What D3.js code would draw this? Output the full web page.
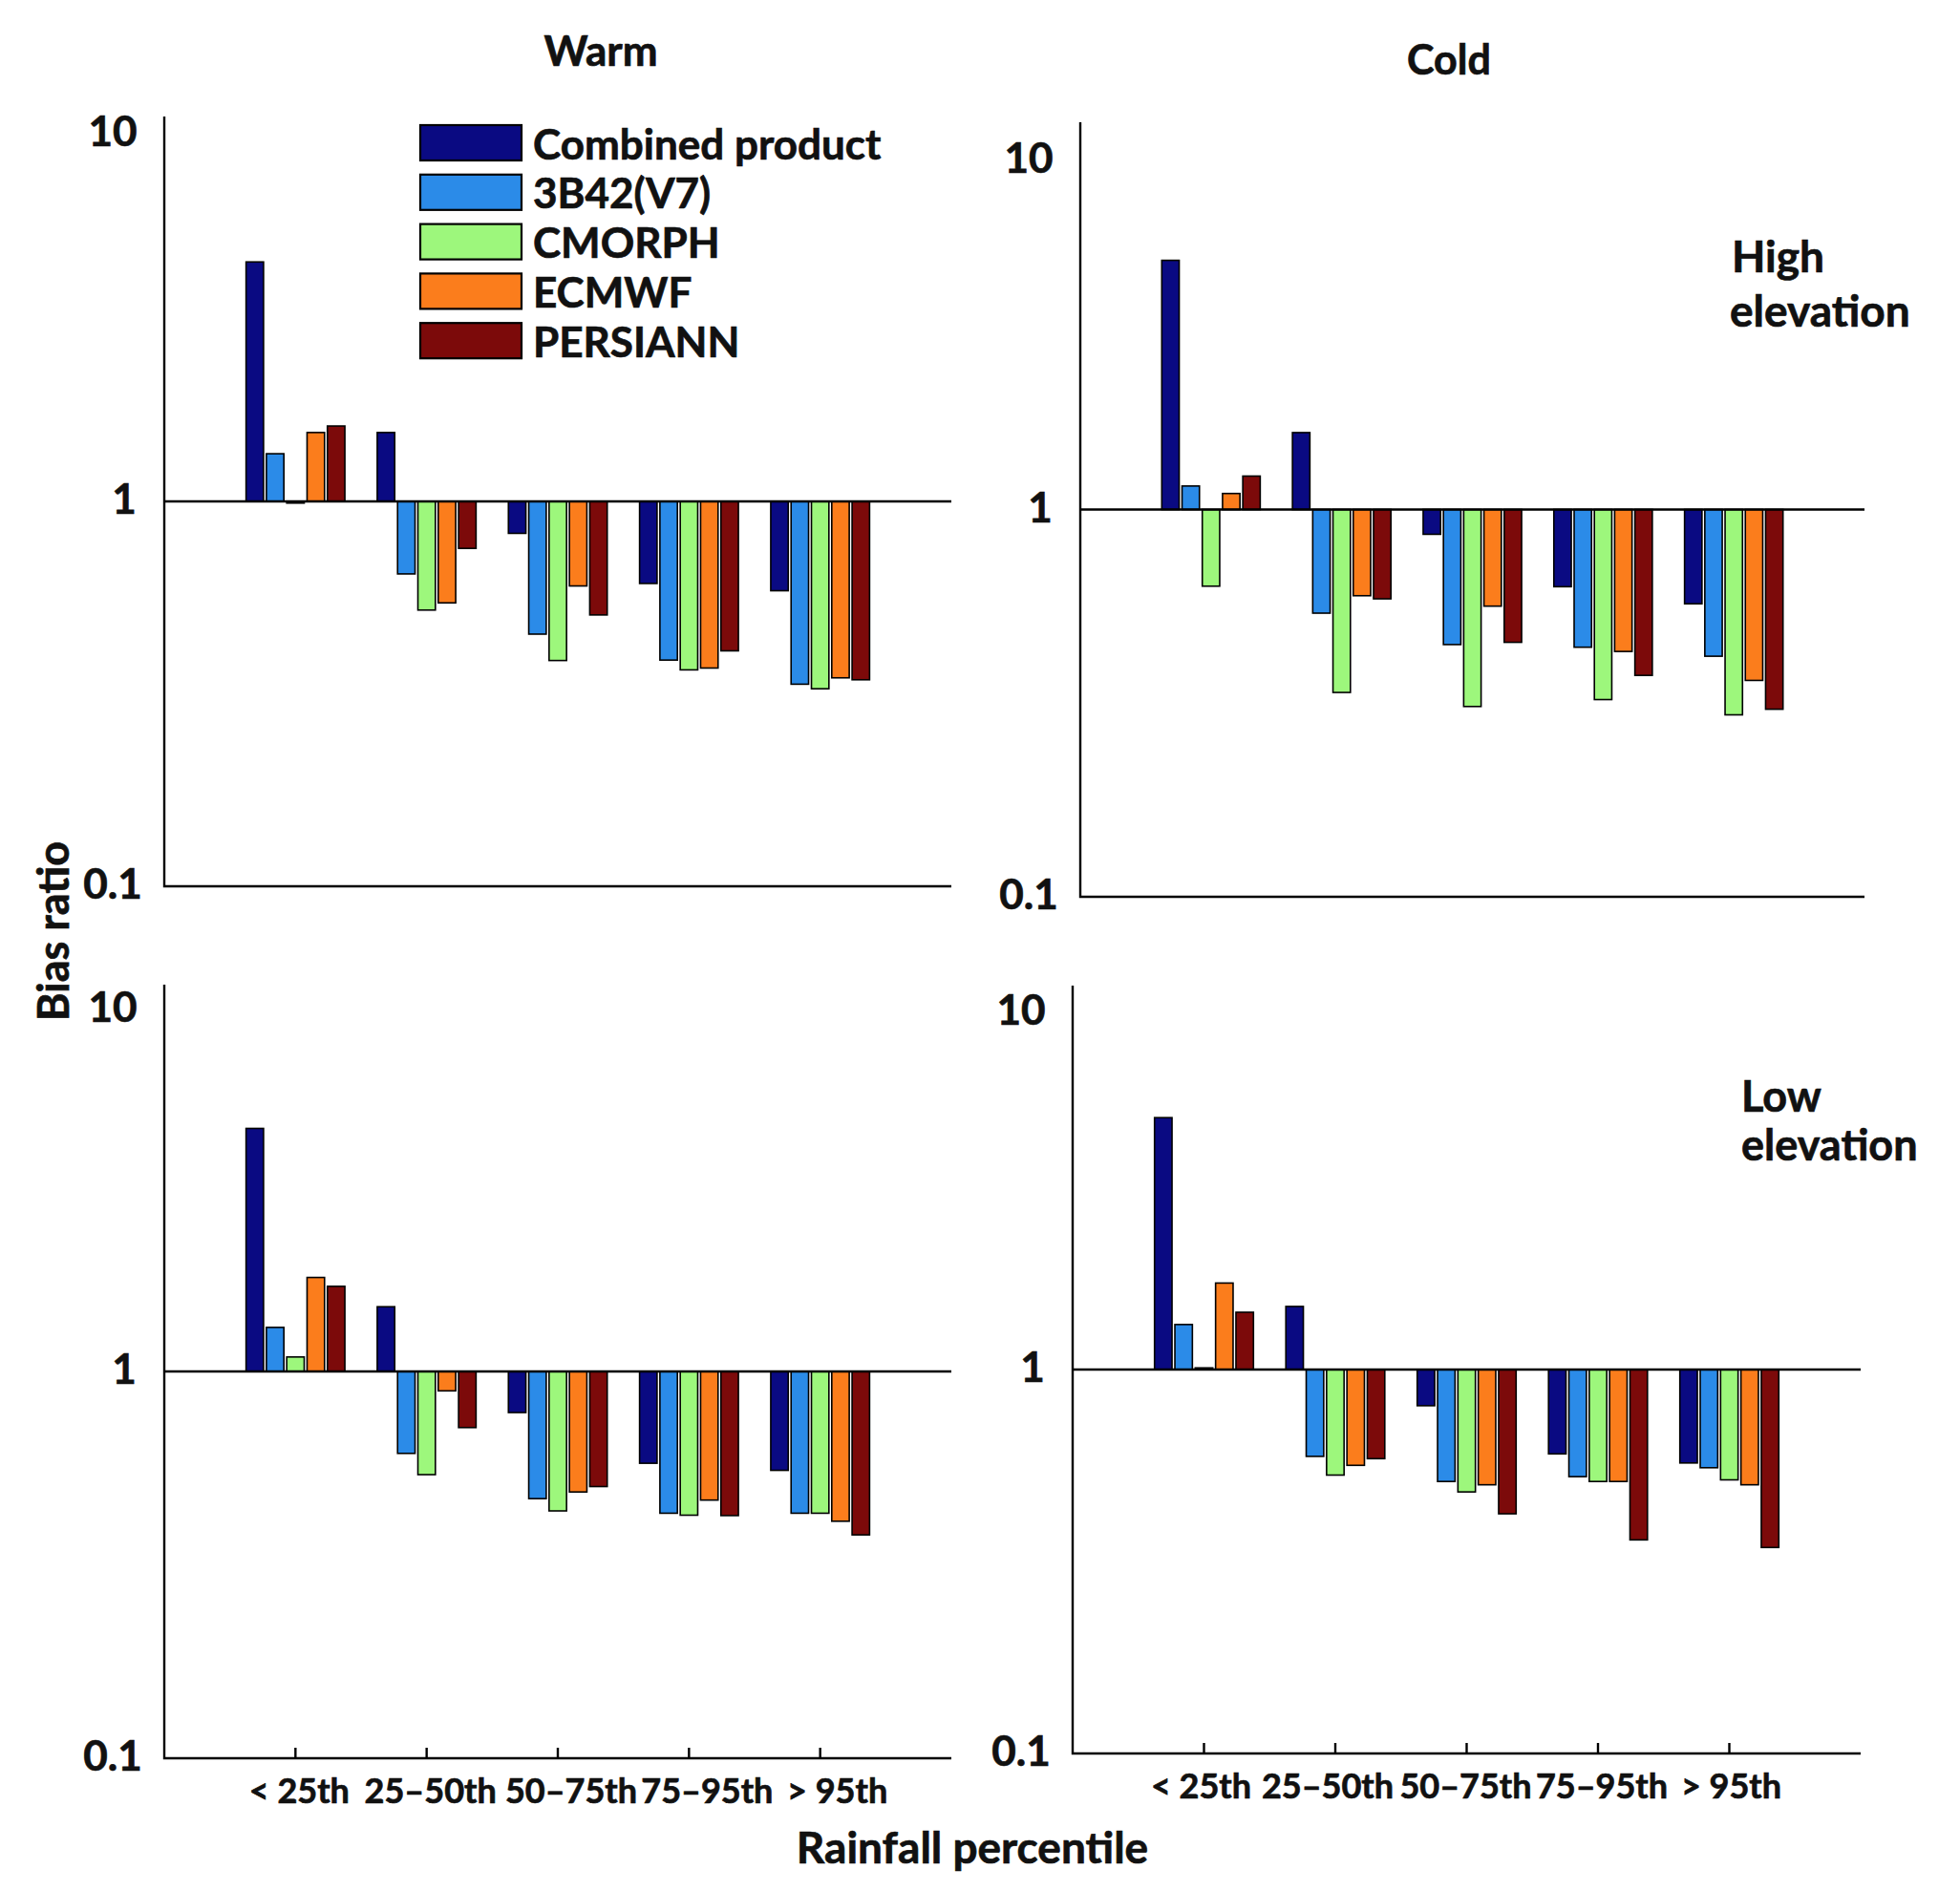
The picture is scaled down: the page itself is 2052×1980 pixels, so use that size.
<!DOCTYPE html>
<html lang="en">
<head>
<meta charset="utf-8">
<title>Bias ratio by rainfall percentile</title>
<style>
  body {margin: 0; background: #fff;}
  svg  {display: block; font-family: Lato, "Open Sans", sans-serif; font-weight: 700;}
  svg text {fill: #111; stroke: #111; stroke-width: 0.7px;}
  .bar {stroke: #000; stroke-width: 1.6;}
  .axis-line {stroke: #000; stroke-width: 2.4; fill: none;}
</style>
</head>
<body>
<svg id="chart" width="2052" height="1980"></svg>

<script src="https://d3js.org/d3.v7.min.js"></script>
<script>
// categories and products
const categories = ["< 25th", "25\u201350th", "50\u201375th", "75\u201395th", "> 95th"];
const products   = ["Combined product", "3B42(V7)", "CMORPH", "ECMWF", "PERSIANN"];
const colors     = ["#0a0a82", "#2b8be8", "#9df77c", "#fb7d1c", "#7c0a0a"];
const yTicks     = [0.1, 1, 10];

// bias ratio per product (rows) and percentile class (columns)
const warmHigh = [
  [4.19, 1.51, 0.826, 0.612, 0.586],
  [1.33, 0.648, 0.452, 0.387, 0.335],
  [0.99, 0.522, 0.386, 0.365, 0.326],
  [1.51, 0.545, 0.603, 0.369, 0.348],
  [1.57, 0.755, 0.507, 0.409, 0.344]
];
const coldHigh = [
  [4.40, 1.58, 0.863, 0.632, 0.571],
  [1.15, 0.540, 0.448, 0.441, 0.418],
  [0.634, 0.337, 0.310, 0.323, 0.295],
  [1.10, 0.599, 0.563, 0.430, 0.362],
  [1.22, 0.588, 0.454, 0.373, 0.305]
];
const warmLow = [
  [4.25, 1.47, 0.783, 0.579, 0.555],
  [1.30, 0.614, 0.469, 0.430, 0.430],
  [1.09, 0.541, 0.436, 0.425, 0.430],
  [1.75, 0.891, 0.488, 0.465, 0.410],
  [1.66, 0.716, 0.504, 0.424, 0.378]
];
const coldLow = [
  [4.53, 1.46, 0.805, 0.603, 0.571],
  [1.31, 0.594, 0.511, 0.526, 0.555],
  [1.01, 0.531, 0.480, 0.511, 0.516],
  [1.68, 0.563, 0.501, 0.511, 0.501],
  [1.41, 0.586, 0.421, 0.360, 0.344]
];

// panel frames (pixel layout of the composite figure)
const panels = [
  {data: warmHigh, x0: 172,  x1: 996,  yTop: 122,  yBot: 928,  ticks: false, tenShift: 14},
  {data: coldHigh, x0: 1131, x1: 1952, yTop: 128,  yBot: 939,  ticks: false, tenShift: 36},
  {data: warmLow,  x0: 172,  x1: 996,  yTop: 1031, yBot: 1841, ticks: true,  tenShift: 22,
   labelShift: [4, 4, 14, 19, 18]},
  {data: coldLow,  x0: 1123, x1: 1948, yTop: 1032, yBot: 1836, ticks: true,  tenShift: 24,
   labelShift: [-3, -8, -1, 4, 2]}
];

const svg = d3.select("#chart");

panels.forEach(p => {
  const g = svg.append("g");
  const x = d3.scaleLinear().domain([0, categories.length + 1]).range([p.x0, p.x1]);
  const y = d3.scaleLog().domain([0.1, 10]).range([p.yBot, p.yTop]);
  const step = x(1) - x(0);
  const pitch = step * 0.155;
  const bw = pitch * 0.86;

  const cells = [];
  p.data.forEach((row, i) => row.forEach((v, c) => cells.push({i, c, v})));

  g.selectAll("rect.bar")
    .data(cells)
    .join("rect")
      .attr("class", "bar")
      .attr("x", d => x(d.c + 1) + (d.i - 2) * pitch - bw / 2)
      .attr("y", d => Math.min(y(d.v), y(1)))
      .attr("width", bw)
      .attr("height", d => Math.max(Math.abs(y(d.v) - y(1)), 0.5))
      .attr("fill", d => colors[d.i]);

  // reference line at ratio = 1
  g.append("line").attr("class", "axis-line")
    .attr("x1", p.x0).attr("x2", p.x1)
    .attr("y1", y(1)).attr("y2", y(1));

  // left and bottom axis lines
  g.append("path").attr("class", "axis-line")
    .attr("d", `M${p.x0},${p.yTop}V${p.yBot}H${p.x1}`);

  g.selectAll("text.ytick")
    .data(yTicks)
    .join("text")
      .attr("class", "ytick")
      .attr("x", d => p.x0 - (d === 1 ? 42 : 54))
      .attr("y", d => y(d) + (d === 10 ? p.tenShift : -4))
      .attr("text-anchor", "middle")
      .attr("dominant-baseline", "central")
      .attr("font-size", 44)
      .text(d => d3.format("~g")(d));

  if (p.ticks) {
    g.selectAll("line.xtick")
      .data(categories)
      .join("line")
        .attr("class", "axis-line")
        .attr("x1", (d, c) => x(c + 1)).attr("x2", (d, c) => x(c + 1))
        .attr("y1", p.yBot).attr("y2", p.yBot - 11);
    g.selectAll("text.xtick")
      .data(categories)
      .join("text")
        .attr("x", (d, c) => x(c + 1) + p.labelShift[c])
        .attr("y", p.yBot + 47)
        .attr("text-anchor", "middle")
        .attr("font-size", 36)
        .text(d => d);
  }
});

// legend
const legend = svg.append("g").attr("transform", "translate(440,131)");
products.forEach((name, i) => {
  legend.append("rect")
    .attr("x", 0).attr("y", i * 51.8)
    .attr("width", 106).attr("height", 37)
    .attr("fill", colors[i]).attr("stroke", "#000").attr("stroke-width", 2.2);
  legend.append("text")
    .attr("x", 118).attr("y", i * 51.8 + 18.5)
    .attr("dominant-baseline", "central")
    .attr("font-size", 44)
    .text(name);
});

// titles and annotations
svg.append("text").attr("x", 629).attr("y", 69).attr("text-anchor", "middle").attr("font-size", 44).text("Warm");
svg.append("text").attr("x", 1517).attr("y", 78).attr("text-anchor", "middle").attr("font-size", 43).text("Cold");

svg.append("text").attr("x", 1813).attr("y", 285).attr("font-size", 46).text("High");
svg.append("text").attr("x", 1811).attr("y", 342).attr("font-size", 46).text("elevation");
svg.append("text").attr("x", 1823).attr("y", 1164).attr("font-size", 45).text("Low");
svg.append("text").attr("x", 1823).attr("y", 1215).attr("font-size", 45).text("elevation");

svg.append("text")
  .attr("transform", "translate(72,975) rotate(-90)")
  .attr("text-anchor", "middle")
  .attr("font-size", 45)
  .text("Bias ratio");

svg.append("text")
  .attr("x", 1018).attr("y", 1951)
  .attr("text-anchor", "middle")
  .attr("font-size", 46)
  .text("Rainfall percentile");
</script>
</body>
</html>
